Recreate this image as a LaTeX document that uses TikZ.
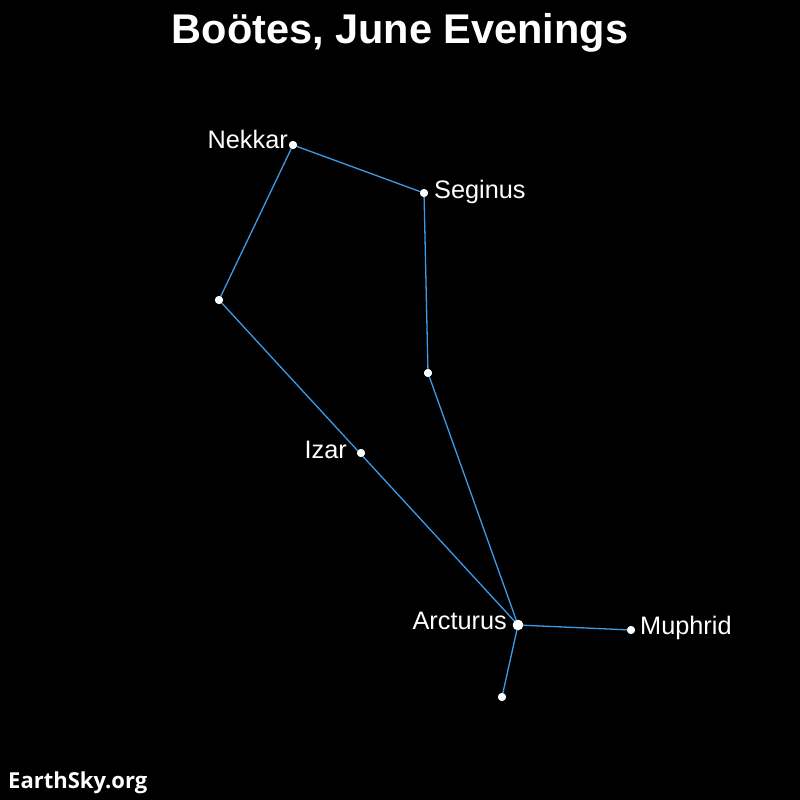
\documentclass[tikz,border=0pt]{standalone}
\usepackage{fontspec}
\setmainfont{Liberation Sans}
\newfontfamily\esfont{Open Sans}
\definecolor{lineblue}{HTML}{3C9BE8}
\begin{document}
\begin{tikzpicture}[x=1pt,y=-1pt,
  star/.style={circle,fill=white,inner sep=0pt,minimum size=8pt},
  bigstar/.style={circle,fill=white,inner sep=0pt,minimum size=10.5pt},
  link/.style={draw=lineblue,line width=1.3pt},
  lbl/.style={text=white,inner sep=0pt,font=\fontsize{25.3}{29}\selectfont}]
\fill[black] (0,0) rectangle (800,800);
\useasboundingbox (0,0) rectangle (800,800);
\node[text=white,font=\bfseries\fontsize{41.5}{47}\selectfont,anchor=base] (title) at (400,44) {Boötes, June Evenings};
\node[text=white,font=\esfont\bfseries\fontsize{22}{26}\selectfont,anchor=base west,inner sep=0pt] (es) at (8,788) {EarthSky.org};
% stars
\node[star] (nekkar) at (293,145) {};
\node[star] (seginus) at (424,193) {};
\node[star] (west) at (219,300) {};
\node[star] (mid) at (428,373) {};
\node[star] (izar) at (361,453) {};
\node[bigstar] (arcturus) at (518,625) {};
\node[star] (muphrid) at (631,630) {};
\node[star] (south) at (502,697) {};
% lines
\path[link] (nekkar.center) -- (seginus.center);
\path[link] (nekkar.center) -- (west.center);
\path[link] (west.center) -- (arcturus.center);
\path[link] (seginus.center) -- (mid.center);
\path[link] (mid.center) -- (arcturus.center);
\path[link] (arcturus.center) -- (muphrid.center);
\path[link] (arcturus.center) -- (south.center);
% redraw stars on top
\foreach \s in {nekkar,seginus,west,mid,izar,muphrid,south}
  \fill[white] (\s.center) circle (4pt);
\fill[white] (arcturus.center) circle (5.2pt);
% labels
\node[lbl,anchor=base east] (lnekkar) at (288,148) {Nekkar};
\node[lbl,anchor=base west] (lseginus) at (434,198) {Seginus};
\node[lbl,anchor=base east] (lizar) at (347,458) {Izar};
\node[lbl,anchor=base east] (larcturus) at (507,629) {Arcturus};
\node[lbl,anchor=base west] (lmuphrid) at (640,634) {Muphrid};
\end{tikzpicture}
\end{document}
